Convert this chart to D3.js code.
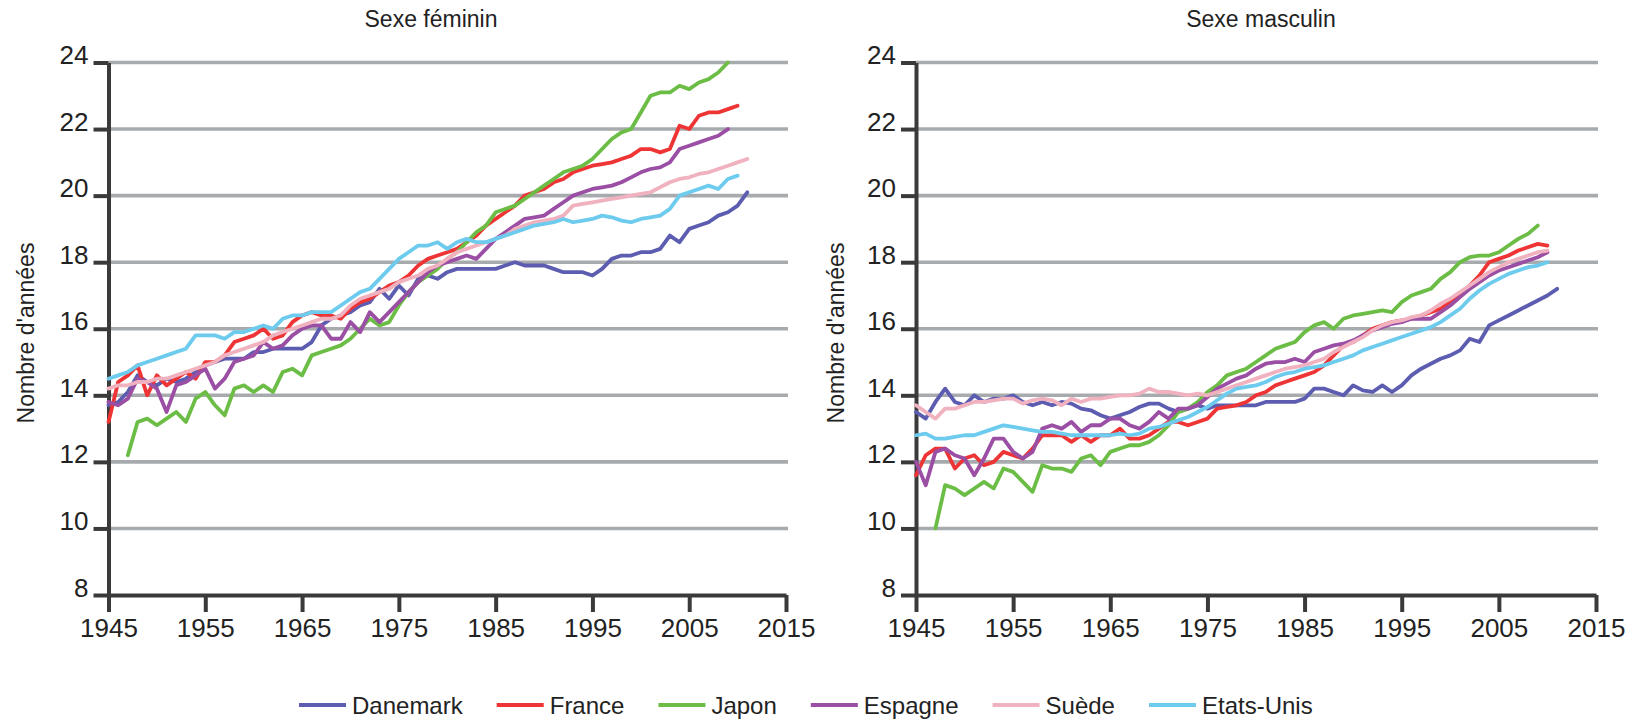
<!DOCTYPE html>
<html>
<head>
<meta charset="utf-8">
<script src="https://cdn.jsdelivr.net/npm/d3@7"></script>
<style>
  body { margin: 0; background: #fff; }
  text { font-family: "Liberation Sans", Arial, Helvetica, sans-serif; fill: #222; }
</style>
</head>
<body>
<svg id="chart"></svg>
<script>
// years 1945..2011, one value per year (null = no data)
const years = d3.range(1945, 2012);

const countries = ['Danemark', 'France', 'Japon', 'Espagne', 'Suède', 'Etats-Unis'];
const colors = ['#5c5cb0', '#ee3434', '#6bbd45', '#9a4ea4', '#f1b2c0', '#6dcbee'];

// Sexe féminin
const danemarkF = [
  13.7,13.8,14.1,14.6,14.4,14.3,14.5,14.4,14.5,14.7,
  14.9,15.0,15.1,15.1,15.1,15.3,15.3,15.4,15.4,15.4,
  15.4,15.6,16.1,16.3,16.4,16.5,16.7,16.8,17.2,16.9,
  17.3,17.0,17.5,17.6,17.5,17.7,17.8,17.8,17.8,17.8,
  17.8,17.9,18.0,17.9,17.9,17.9,17.8,17.7,17.7,17.7,
  17.6,17.8,18.1,18.2,18.2,18.3,18.3,18.4,18.8,18.6,
  19.0,19.1,19.2,19.4,19.5,19.7,20.1];
const franceF = [
  13.2,14.4,14.6,14.9,14.0,14.6,14.3,14.5,14.7,14.5,
  15.0,15.0,15.2,15.6,15.7,15.8,16.0,15.7,15.8,16.2,
  16.4,16.5,16.4,16.4,16.3,16.6,16.8,16.9,17.1,17.3,
  17.4,17.6,17.9,18.1,18.2,18.3,18.4,18.6,18.8,19.1,
  19.3,19.5,19.7,20.0,20.1,20.2,20.4,20.5,20.7,20.8,
  20.9,20.95,21.0,21.1,21.2,21.4,21.4,21.3,21.4,22.1,
  22.0,22.4,22.5,22.5,22.6,22.7,null];
const japonF = [
  null,null,12.2,13.2,13.3,13.1,13.3,13.5,13.2,13.9,
  14.1,13.7,13.4,14.2,14.3,14.1,14.3,14.1,14.7,14.8,
  14.6,15.2,15.3,15.4,15.5,15.7,16.0,16.3,16.1,16.2,
  16.7,17.1,17.4,17.6,17.8,18.1,18.3,18.6,18.9,19.1,
  19.5,19.6,19.7,19.9,20.1,20.3,20.5,20.7,20.8,20.9,
  21.1,21.4,21.7,21.9,22.0,22.5,23.0,23.1,23.1,23.3,
  23.2,23.4,23.5,23.7,24.0,null,null];
const espagneF = [
  13.8,13.7,13.9,14.5,14.4,14.2,13.5,14.3,14.4,14.6,
  14.8,14.2,14.5,15.0,15.1,15.2,15.6,15.4,15.5,15.8,
  16.0,16.1,16.1,15.7,15.7,16.2,15.9,16.5,16.2,16.5,
  16.8,17.1,17.4,17.7,17.9,18.0,18.1,18.2,18.1,18.4,
  18.7,18.9,19.1,19.3,19.35,19.4,19.6,19.8,20.0,20.1,
  20.2,20.25,20.3,20.4,20.55,20.7,20.8,20.85,21.0,21.4,
  21.5,21.6,21.7,21.8,22.0,null,null];
const suedeF = [
  14.2,14.3,14.3,14.4,14.4,14.5,14.5,14.6,14.7,14.8,
  14.9,15.0,15.2,15.3,15.4,15.5,15.6,15.8,15.9,16.0,
  16.1,16.2,16.3,16.3,16.4,16.7,16.9,17.0,17.1,17.2,
  17.4,17.5,17.6,17.8,17.9,18.1,18.3,18.4,18.5,18.6,
  18.7,18.8,19.0,19.1,19.2,19.25,19.3,19.4,19.7,19.75,
  19.8,19.85,19.9,19.95,20.0,20.05,20.1,20.25,20.4,20.5,
  20.55,20.65,20.7,20.8,20.9,21.0,21.1];
const etatsUnisF = [
  14.5,14.6,14.7,14.9,15.0,15.1,15.2,15.3,15.4,15.8,
  15.8,15.8,15.7,15.9,15.9,16.0,16.1,16.0,16.3,16.4,
  16.4,16.5,16.5,16.5,16.7,16.9,17.1,17.2,17.5,17.8,
  18.1,18.3,18.5,18.5,18.6,18.4,18.6,18.7,18.6,18.6,
  18.7,18.8,18.9,19.0,19.1,19.15,19.2,19.3,19.2,19.25,
  19.3,19.4,19.35,19.25,19.2,19.3,19.35,19.4,19.6,20.0,
  20.1,20.2,20.3,20.2,20.5,20.6,null];

// Sexe masculin
const danemarkM = [
  13.5,13.3,13.8,14.2,13.8,13.7,14.0,13.8,13.9,13.9,
  14.0,13.8,13.7,13.8,13.7,13.8,13.75,13.6,13.55,13.4,
  13.3,13.4,13.5,13.65,13.75,13.75,13.6,13.5,13.6,13.7,
  13.6,13.7,13.7,13.7,13.7,13.7,13.8,13.8,13.8,13.8,
  13.9,14.2,14.2,14.1,14.0,14.3,14.15,14.1,14.3,14.1,
  14.3,14.6,14.8,14.95,15.1,15.2,15.35,15.7,15.6,16.1,
  16.25,16.4,16.55,16.7,16.85,17.0,17.2];
const franceM = [
  11.6,12.2,12.4,12.4,11.8,12.1,12.2,11.9,12.0,12.3,
  12.2,12.1,12.4,12.8,12.8,12.8,12.6,12.8,12.6,12.8,
  12.8,13.0,12.7,12.7,12.8,13.0,13.2,13.2,13.1,13.2,
  13.3,13.6,13.65,13.7,13.8,14.0,14.1,14.3,14.4,14.5,
  14.6,14.7,14.9,15.2,15.5,15.6,15.8,16.0,16.1,16.2,
  16.25,16.3,16.4,16.5,16.6,16.8,17.0,17.3,17.6,18.0,
  18.1,18.2,18.35,18.45,18.55,18.5,null];
const japonM = [
  null,null,10.0,11.3,11.2,11.0,11.2,11.4,11.2,11.8,
  11.7,11.4,11.1,11.9,11.8,11.8,11.7,12.1,12.2,11.9,
  12.3,12.4,12.5,12.5,12.6,12.8,13.1,13.5,13.6,13.8,
  14.1,14.3,14.6,14.7,14.8,15.0,15.2,15.4,15.5,15.6,
  15.9,16.1,16.2,16.0,16.3,16.4,16.45,16.5,16.55,16.5,
  16.8,17.0,17.1,17.2,17.5,17.7,18.0,18.15,18.2,18.2,
  18.3,18.5,18.7,18.85,19.1,null,null];
const espagneM = [
  12.0,11.3,12.3,12.4,12.2,12.1,11.6,12.1,12.7,12.7,
  12.3,12.1,12.3,13.0,13.1,13.0,13.2,12.9,13.1,13.1,
  13.3,13.3,13.1,13.0,13.2,13.5,13.3,13.6,13.6,13.7,
  13.95,14.2,14.35,14.5,14.6,14.8,14.95,15.0,15.0,15.1,
  15.0,15.3,15.4,15.5,15.55,15.65,15.8,15.95,16.05,16.15,
  16.2,16.3,16.3,16.3,16.5,16.7,16.95,17.2,17.4,17.6,
  17.75,17.85,17.95,18.05,18.15,18.3,null];
const suedeM = [
  13.7,13.5,13.3,13.6,13.6,13.7,13.8,13.8,13.85,13.9,
  13.9,13.75,13.85,13.9,13.85,13.7,13.9,13.8,13.9,13.9,
  13.95,14.0,14.0,14.05,14.2,14.1,14.1,14.05,14.0,14.05,
  14.0,14.1,14.2,14.3,14.4,14.5,14.6,14.7,14.8,14.85,
  14.9,15.0,15.1,15.3,15.45,15.6,15.75,15.95,16.1,16.2,
  16.25,16.35,16.4,16.55,16.75,16.9,17.1,17.3,17.5,17.7,
  17.85,18.0,18.1,18.2,18.3,18.35,null];
const etatsUnisM = [
  12.8,12.85,12.7,12.7,12.75,12.8,12.8,12.9,13.0,13.1,
  13.05,13.0,12.95,12.9,12.9,12.85,12.8,12.8,12.8,12.8,
  12.8,12.85,12.8,12.85,13.0,13.05,13.15,13.25,13.35,13.5,
  13.65,13.85,14.05,14.2,14.25,14.3,14.4,14.55,14.65,14.7,
  14.8,14.85,14.9,15.0,15.1,15.2,15.35,15.45,15.55,15.65,
  15.75,15.85,15.95,16.05,16.2,16.4,16.6,16.9,17.15,17.35,
  17.5,17.65,17.75,17.85,17.9,18.0,null];

const femaleSeries = [danemarkF, franceF, japonF, espagneF, suedeF, etatsUnisF];
const maleSeries = [danemarkM, franceM, japonM, espagneM, suedeM, etatsUnisM];

const yTicks = [8, 10, 12, 14, 16, 18, 20, 22, 24];
const xTicks = [1945, 1955, 1965, 1975, 1985, 1995, 2005, 2015];

const W = 1630, H = 719;
const svg = d3.select('#chart').attr('width', W).attr('height', H);

const yTop = 62.5, yBottom = 595;

function drawPanel(p, series) {
  const x = d3.scaleLinear().domain([1945, 2015]).range([p.x0, p.x1]);
  const y = d3.scaleLinear().domain([8, 24]).range([yBottom, yTop]);
  const g = svg.append('g');

  // grid lines
  g.selectAll('line.grid')
    .data(yTicks.filter(v => v > 8))
    .enter().append('line')
    .attr('class', 'grid')
    .attr('x1', p.x0).attr('x2', p.x1 + 2)
    .attr('y1', d => y(d)).attr('y2', d => y(d))
    .attr('stroke', '#a7abae')
    .attr('stroke-width', 3.6);

  // y axis
  const yAxis = g.append('g')
    .attr('transform', `translate(${p.x0},0)`)
    .call(d3.axisLeft(y).tickValues(yTicks).tickSize(15).tickPadding(5).tickSizeOuter(0));
  yAxis.select('.domain').attr('stroke', '#3a3a3a').attr('stroke-width', 4);
  yAxis.selectAll('.tick line').attr('stroke', '#3a3a3a').attr('stroke-width', 4);
  yAxis.selectAll('.tick text')
    .attr('dy', '0').attr('y', 1)
    .style('font-size', '26px').style('fill', '#222')
    .style('font-family', '"Liberation Sans", Arial, sans-serif');

  // x axis
  const xAxis = g.append('g')
    .attr('transform', `translate(0,${yBottom})`)
    .call(d3.axisBottom(x).tickValues(xTicks).tickFormat(d3.format('d')).tickSize(17).tickPadding(4).tickSizeOuter(0));
  xAxis.select('.domain').attr('stroke', '#3a3a3a').attr('stroke-width', 4);
  xAxis.selectAll('.tick line').attr('stroke', '#3a3a3a').attr('stroke-width', 4);
  xAxis.selectAll('.tick text')
    .attr('dy', '0').attr('y', 42)
    .style('font-size', '26px').style('fill', '#222')
    .style('font-family', '"Liberation Sans", Arial, sans-serif');

  // lines
  const line = d3.line()
    .defined(d => d.v != null)
    .x(d => x(d.year))
    .y(d => y(d.v));

  series.forEach((vals, i) => {
    const pts = years.map((yr, k) => ({year: yr, v: vals[k]}));
    g.append('path')
      .datum(pts)
      .attr('fill', 'none')
      .attr('stroke', colors[i])
      .attr('stroke-width', 3.8)
      .attr('stroke-linejoin', 'round')
      .attr('stroke-linecap', 'round')
      .attr('d', line);
  });

  // panel title
  g.append('text')
    .attr('x', p.titleX).attr('y', 27)
    .attr('text-anchor', 'middle')
    .style('font-size', '23px')
    .text(p.title);

  // y axis title
  g.append('text')
    .attr('transform', `translate(${p.yTitleX},333) rotate(-90)`)
    .attr('text-anchor', 'middle')
    .attr('dominant-baseline', 'central')
    .style('font-size', '23px')
    .text("Nombre d'années");
}

drawPanel({x0: 108.5, x1: 786, title: 'Sexe féminin', titleX: 431, yTitleX: 26}, femaleSeries);
drawPanel({x0: 916, x1: 1596, title: 'Sexe masculin', titleX: 1261, yTitleX: 836}, maleSeries);

// legend
const legend = svg.append('g');
let lx = 299;
const ly = 705;
countries.forEach((c, i) => {
  legend.append('line')
    .attr('x1', lx).attr('x2', lx + 47)
    .attr('y1', ly).attr('y2', ly)
    .attr('stroke', colors[i]).attr('stroke-width', 3.8);
  const t = legend.append('text')
    .attr('x', lx + 53).attr('y', ly)
    .attr('dominant-baseline', 'central')
    .style('font-size', '24px')
    .text(c);
  lx += 53 + t.node().getComputedTextLength() + 34;
});
</script>
</body>
</html>
